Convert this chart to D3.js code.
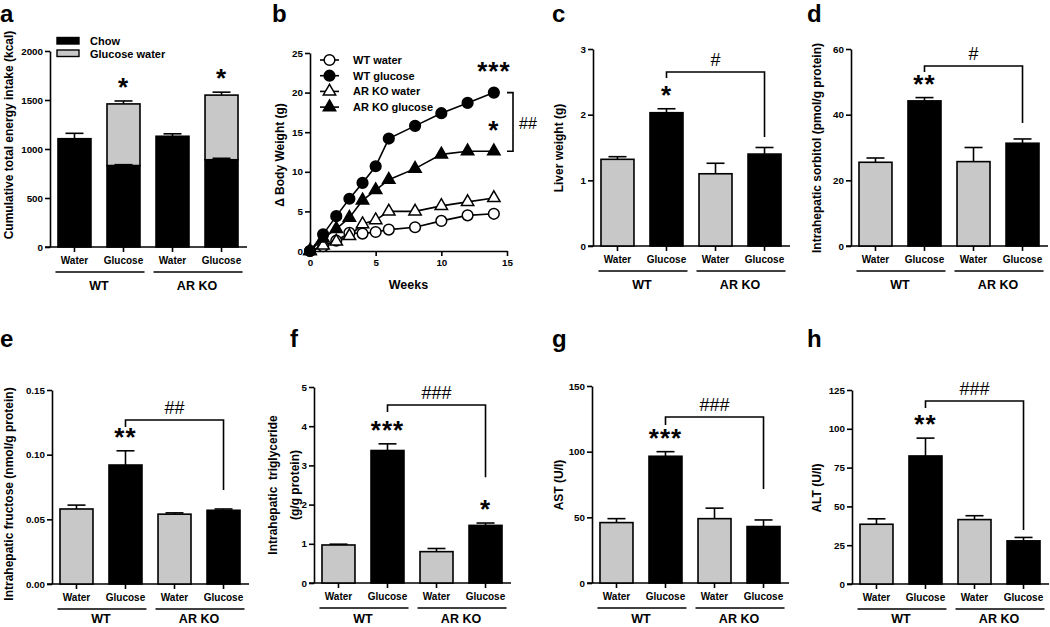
<!DOCTYPE html>
<html>
<head>
<meta charset="utf-8">
<script src="https://cdn.jsdelivr.net/npm/d3@7"></script>
<style>
  html, body { margin: 0; padding: 0; background: #fff; }
  svg { display: block; font-family: "Liberation Sans", Arial, sans-serif; font-weight: bold; }
</style>
</head>
<body>
<script>
// ---------------- DATA ----------------
const categories = ["Water", "Glucose", "Water", "Glucose"];
const groups = ["WT", "AR KO"];

// (a) cumulative energy intake (kcal)
const intakeChow = [1105, 830, 1130, 890];
const intakeChowSEM = [55, 10, 25, 15];
const intakeGlucoseWater = [0, 630, 0, 660];
const intakeTotalSEM = [0, 30, 0, 30];
const intakeStars = ["", "*", "", "*"];
const intakeTicks = [0, 500, 1000, 1500, 2000];
const intakeLegend = ["Chow", "Glucose water"];

// (b) body weight gain
const weeks = [0, 1, 2, 3, 4, 5, 6, 8, 10, 12, 14];
const wtWater = [0, 0.6, 1.3, 2.3, 2.2, 2.4, 2.7, 3.0, 3.8, 4.5, 4.7];
const wtGlucose = [0, 2.1, 4.4, 6.6, 8.6, 10.7, 14.2, 15.8, 17.4, 18.7, 20.0];
const arkoWater = [0, 0.7, 1.2, 1.9, 3.4, 3.9, 5.0, 5.0, 5.7, 6.2, 6.7];
const arkoGlucose = [0, 1.6, 2.8, 4.2, 6.4, 7.7, 9.0, 10.4, 12.2, 12.6, 12.6];
const weightSeriesNames = ["WT water", "WT glucose", "AR KO water", "AR KO glucose"];
const weightXTicks = [0, 5, 10, 15];
const weightYTicks = [0, 5, 10, 15, 20, 25];

// (c) liver weight
const liverWeight = [1.32, 2.03, 1.10, 1.40];
const liverWeightSEM = [0.04, 0.06, 0.16, 0.10];
const liverStars = ["", "*", "", ""];
const liverTicks = [0, 1, 2, 3];
const liverBracket = [2.65, 2.56, 1.66];

// (d) sorbitol
const sorbitol = [25.5, 44.2, 25.7, 31.3];
const sorbitolSEM = [1.3, 1.0, 4.3, 1.3];
const sorbitolStars = ["", "**", "", ""];
const sorbitolTicks = [0, 20, 40, 60];
const sorbitolBracket = [54.8, 53.0, 37.5];

// (e) fructose
const fructose = [0.058, 0.092, 0.054, 0.057];
const fructoseSEM = [0.003, 0.011, 0.001, 0.001];
const fructoseStars = ["", "**", "", ""];
const fructoseTicks = [0, 0.05, 0.10, 0.15];
const fructoseBracket = [0.1268, 0.1214, 0.0727];

// (f) triglyceride
const triglyceride = [0.97, 3.38, 0.80, 1.47];
const triglycerideSEM = [0.02, 0.17, 0.08, 0.06];
const triglycerideStars = ["", "***", "", "*"];
const triglycerideTicks = [0, 1, 2, 3, 4, 5];
const triglycerideBracket = [4.54, 4.36, 2.70];

// (g) AST
const ast = [46, 96.5, 49, 43];
const astSEM = [3, 3.5, 8, 5];
const astStars = ["", "***", "", ""];
const astTicks = [0, 50, 100, 150];
const astBracket = [126.4, 120.3, 71.6];

// (h) ALT
const alt = [38.5, 82.5, 41.5, 27.8];
const altSEM = [3.5, 11.5, 2.5, 2.2];
const altStars = ["", "**", "", ""];
const altTicks = [0, 25, 50, 75, 100, 125];
const altBracket = [117.9, 113.4, 34.8];

// ---------------- DRAWING ----------------
const GRAY = "#c8c8c8";
const svg = d3.select("body").append("svg").attr("width", 1050).attr("height", 627);

function letter(t, x, y) {
  svg.append("text").attr("x", x).attr("y", y).attr("font-size", 24).text(t);
}

function yLabel(lines, x, cy) {
  const g = svg.append("g").attr("transform", `translate(${x},${cy}) rotate(-90)`);
  lines.forEach((l, i) => {
    g.append("text").attr("x", 0).attr("y", i * 22).attr("text-anchor", "middle")
      .attr("font-size", 12).attr("xml:space", "preserve").text(l);
  });
}

function styleAxis(g) {
  g.select(".domain").attr("stroke", "#000").attr("stroke-width", 1.6);
  g.selectAll(".tick line").attr("stroke", "#000").attr("stroke-width", 1.6);
  g.selectAll(".tick text").attr("fill", "#000").attr("font-size", 9.8)
    .attr("font-family", '"Liberation Sans", Arial, sans-serif').attr("font-weight", "bold");
}

function barFrame(o) {
  const x = d3.scaleBand().domain(d3.range(4)).range([o.axisX, o.axisX + 196])
    .paddingInner(0.327).paddingOuter(0.163);
  const y = d3.scaleLinear().domain([0, o.ticks[o.ticks.length - 1]]).range([o.bottom, o.top]);
  const yAx = svg.append("g").attr("transform", `translate(${o.axisX},0)`)
    .call(d3.axisLeft(y).tickValues(o.ticks).tickSize(5).tickPadding(2).tickSizeOuter(0)
      .tickFormat(o.fmt || d3.format("d")));
  styleAxis(yAx);
  const xAx = svg.append("g").attr("transform", `translate(0,${o.bottom})`)
    .call(d3.axisBottom(x).tickSize(5).tickSizeOuter(0).tickFormat(""));
  styleAxis(xAx);
  xAx.select(".domain").attr("d", `M${o.axisX - 5},0H${o.axisX + 197}`);
  categories.forEach((c, i) => {
    svg.append("text").attr("x", x(i) + x.bandwidth() / 2).attr("y", o.bottom + 17)
      .attr("text-anchor", "middle").attr("font-size", 10).text(c);
  });
  groups.forEach((gname, gi) => {
    const c1 = x(gi * 2) + x.bandwidth() / 2, c2 = x(gi * 2 + 1) + x.bandwidth() / 2;
    svg.append("line").attr("x1", c1 - 19).attr("x2", c2 + 21)
      .attr("y1", o.bottom + 25).attr("y2", o.bottom + 25).attr("stroke", "#000").attr("stroke-width", 1.6);
    svg.append("text").attr("x", (c1 + c2) / 2).attr("y", Math.min(o.bottom + 43, 623))
      .attr("text-anchor", "middle").attr("font-size", 12.5).text(gname);
  });
  return { x, y };
}

function errBar(xc, y0, y1) {
  svg.append("line").attr("x1", xc).attr("x2", xc).attr("y1", y0).attr("y2", y1)
    .attr("stroke", "#000").attr("stroke-width", 1.6);
  svg.append("line").attr("x1", xc - 9).attr("x2", xc + 9).attr("y1", y1).attr("y2", y1)
    .attr("stroke", "#000").attr("stroke-width", 1.6);
}

function stars(txt, xc, yTop) {
  if (!txt) return;
  svg.append("text").attr("x", xc).attr("y", yTop + 9).attr("text-anchor", "middle")
    .attr("font-size", 26).attr("letter-spacing", 1).text(txt);
}

function barPanel(o) {
  const { x, y } = barFrame(o);
  const xc = i => x(i) + x.bandwidth() / 2;
  o.means.forEach((m, i) => {
    errBar(xc(i), y(m), y(m + o.sems[i]));
    svg.append("rect").attr("x", x(i)).attr("width", x.bandwidth())
      .attr("y", y(m)).attr("height", y(0) - y(m))
      .attr("fill", i % 2 === 0 ? GRAY : "#000").attr("stroke", "#000").attr("stroke-width", 1.6);
    stars(o.stars[i], xc(i), y(m + o.sems[i]) - 14);
  });
  const b = o.bracket;
  const xl = xc(1), xr = xc(3);
  svg.append("path").attr("fill", "none").attr("stroke", "#000").attr("stroke-width", 1.6)
    .attr("d", `M${xl},${y(b[1])}V${y(b[0])}H${xr}V${y(b[2])}`);
  svg.append("text").attr("x", (xl + xr) / 2).attr("y", y(b[0]) - 6).attr("text-anchor", "middle")
    .attr("font-size", 18).attr("font-weight", "normal").text(o.hash);
}

// ---- panel a ----
(function () {
  const o = { axisX: 50, top: 51, bottom: 247, ticks: intakeTicks };
  const { x, y } = barFrame(o);
  const xc = i => x(i) + x.bandwidth() / 2;
  intakeChow.forEach((m, i) => {
    const total = m + intakeGlucoseWater[i];
    if (intakeGlucoseWater[i] > 0) {
      errBar(xc(i), y(total), y(total + intakeTotalSEM[i]));
      svg.append("rect").attr("x", x(i)).attr("width", x.bandwidth())
        .attr("y", y(total)).attr("height", y(m) - y(total))
        .attr("fill", GRAY).attr("stroke", "#000").attr("stroke-width", 1.6);
      stars(intakeStars[i], xc(i), y(total + intakeTotalSEM[i]) - 14);
    } else {
      errBar(xc(i), y(m), y(m + intakeChowSEM[i]));
    }
    svg.append("rect").attr("x", x(i)).attr("width", x.bandwidth())
      .attr("y", y(m)).attr("height", y(0) - y(m))
      .attr("fill", "#000").attr("stroke", "#000").attr("stroke-width", 1.6);
    if (intakeGlucoseWater[i] > 0) {
      svg.append("line").attr("x1", xc(i)).attr("x2", xc(i)).attr("y1", y(m)).attr("y2", y(m + intakeChowSEM[i]))
        .attr("stroke", "#000").attr("stroke-width", 1.6);
      svg.append("line").attr("x1", xc(i) - 9).attr("x2", xc(i) + 9)
        .attr("y1", y(m + intakeChowSEM[i])).attr("y2", y(m + intakeChowSEM[i]))
        .attr("stroke", "#000").attr("stroke-width", 1.6);
    }
  });
  intakeLegend.forEach((t, i) => {
    svg.append("rect").attr("x", 57).attr("y", 37.5 + i * 12.5).attr("width", 22).attr("height", 6.5)
      .attr("fill", i === 0 ? "#000" : GRAY).attr("stroke", "#000").attr("stroke-width", 1.4);
    svg.append("text").attr("x", 90).attr("y", 45 + i * 12.5).attr("font-size", 11).text(t);
  });
  yLabel(["Cumulative total energy intake (kcal)"], 13, 135);
  letter("a", 0, 22);
})();

// ---- panel b ----
(function () {
  const ax = 310, bottom = 251, top = 53;
  const x = d3.scaleLinear().domain([0, 15]).range([ax, ax + 197]);
  const y = d3.scaleLinear().domain([0, 25]).range([bottom, top]);
  const yAx = svg.append("g").attr("transform", `translate(${ax},0)`)
    .call(d3.axisLeft(y).tickValues(weightYTicks).tickSize(5).tickPadding(2).tickSizeOuter(0));
  styleAxis(yAx);
  const xAx = svg.append("g").attr("transform", `translate(0,${bottom})`)
    .call(d3.axisBottom(x).tickValues(weightXTicks).tickSize(5).tickPadding(3).tickSizeOuter(0));
  styleAxis(xAx);
  svg.append("text").attr("x", (x(0) + x(15)) / 2).attr("y", 289).attr("text-anchor", "middle")
    .attr("font-size", 12.5).text("Weeks");
  yLabel(["\u0394 Body Weight (g)"], 284, 155);

  const series = [
    { v: wtWater, sym: d3.symbolCircle, fill: "#fff" },
    { v: wtGlucose, sym: d3.symbolCircle, fill: "#000" },
    { v: arkoWater, sym: d3.symbolTriangle, fill: "#fff" },
    { v: arkoGlucose, sym: d3.symbolTriangle, fill: "#000" }
  ];
  const line = d3.line().x((d, i) => x(weeks[i])).y(d => y(d));
  const symSize = s => s === d3.symbolCircle ? 90 : 66;
  series.forEach(s => {
    svg.append("path").attr("d", line(s.v)).attr("fill", "none").attr("stroke", "#000").attr("stroke-width", 1.6);
  });
  series.forEach(s => {
    s.v.forEach((d, i) => {
      svg.append("path").attr("d", d3.symbol().type(s.sym).size(symSize(s.sym))())
        .attr("transform", `translate(${x(weeks[i])},${y(d)})`)
        .attr("fill", s.fill).attr("stroke", "#000").attr("stroke-width", 1.5);
    });
  });
  weightSeriesNames.forEach((n, i) => {
    const ly = 60 + i * 15.7;
    svg.append("line").attr("x1", 320).attr("x2", 339).attr("y1", ly).attr("y2", ly)
      .attr("stroke", "#000").attr("stroke-width", 1.6);
    svg.append("path").attr("d", d3.symbol().type(series[i].sym).size(symSize(series[i].sym))())
      .attr("transform", `translate(329.5,${ly})`).attr("fill", series[i].fill)
      .attr("stroke", "#000").attr("stroke-width", 1.5);
    svg.append("text").attr("x", 353).attr("y", ly + 4).attr("font-size", 11).text(n);
  });
  const last = weeks.length - 1;
  stars("***", x(14), y(wtGlucose[last]) - 22);
  stars("*", x(14), y(arkoGlucose[last]) - 21);
  const bx = 513;
  svg.append("path").attr("fill", "none").attr("stroke", "#000").attr("stroke-width", 1.6)
    .attr("d", `M${bx - 6},${y(wtGlucose[last])}H${bx}V${y(arkoGlucose[last])}H${bx - 6}`);
  svg.append("text").attr("x", 528).attr("y", 129).attr("text-anchor", "middle")
    .attr("font-size", 16).attr("font-weight", "normal").text("##");
  letter("b", 272, 22);
})();

// ---- panels c-h ----
barPanel({ axisX: 593, top: 49, bottom: 246, ticks: liverTicks, means: liverWeight, sems: liverWeightSEM,
  stars: liverStars, bracket: liverBracket, hash: "#" });
yLabel(["Liver weight (g)"], 563, 148);
letter("c", 552, 22);

barPanel({ axisX: 851, top: 49, bottom: 246, ticks: sorbitolTicks, means: sorbitol, sems: sorbitolSEM,
  stars: sorbitolStars, bracket: sorbitolBracket, hash: "#" });
yLabel(["Intrahepatic sorbitol (pmol/g protein)"], 821, 148);
letter("d", 807, 22);

barPanel({ axisX: 52, top: 390, bottom: 584, ticks: fructoseTicks, means: fructose, sems: fructoseSEM,
  stars: fructoseStars, bracket: fructoseBracket, hash: "##", fmt: d3.format(".2f") });
yLabel(["Intrahepatic fructose (nmol/g protein)"], 13, 494);
letter("e", 0, 347);

barPanel({ axisX: 314, top: 387, bottom: 583, ticks: triglycerideTicks, means: triglyceride, sems: triglycerideSEM,
  stars: triglycerideStars, bracket: triglycerideBracket, hash: "###" });
yLabel(["Intrahepatic  triglyceride", "(g/g protein)"], 277, 485);
letter("f", 290, 347);

barPanel({ axisX: 592, top: 386, bottom: 583, ticks: astTicks, means: ast, sems: astSEM,
  stars: astStars, bracket: astBracket, hash: "###" });
yLabel(["AST (U/l)"], 563, 485);
letter("g", 552, 347);

barPanel({ axisX: 852, top: 390, bottom: 584, ticks: altTicks, means: alt, sems: altSEM,
  stars: altStars, bracket: altBracket, hash: "###" });
yLabel(["ALT (U/l)"], 821, 488);
letter("h", 807, 347);
</script>
</body>
</html>
